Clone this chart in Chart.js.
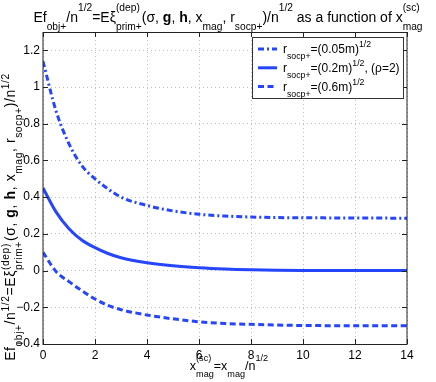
<!DOCTYPE html>
<html>
<head>
<meta charset="utf-8">
<script src="https://cdn.jsdelivr.net/npm/chart.js@4.4.1/dist/chart.umd.min.js"></script>
<style>
    html, body { margin: 0; padding: 0; background: #fff; }
    canvas { display: block; }
</style>
</head>
<body>
<canvas id="chart" width="436" height="382"></canvas>
<script>
// values
const xs = [0, 0.5, 1, 1.5, 2, 2.5, 3, 4, 5, 6, 7, 8, 9, 10, 11, 12, 13, 14];
const r005 = [1.14, 0.87, 0.69, 0.57, 0.50, 0.445, 0.40, 0.355, 0.325, 0.307, 0.297, 0.292, 0.289, 0.288, 0.287, 0.286, 0.286, 0.285];
const r02 = [0.45, 0.32, 0.228, 0.165, 0.125, 0.093, 0.07, 0.043, 0.026, 0.015, 0.008, 0.004, 0.002, 0.001, 0.0005, 0, 0, 0];
const r06 = [0.10, -0.005, -0.06, -0.11, -0.155, -0.19, -0.213, -0.242, -0.263, -0.279, -0.288, -0.293, -0.297, -0.299, -0.300, -0.300, -0.301, -0.301];

const seriesLabels = [
    'r_{socp+}=(0.05m)^{1/2}',
    'r_{socp+}=(0.2m)^{1/2}, (ρ=2)',
    'r_{socp+}=(0.6m)^{1/2}',
];
const xTicks = [0, 2, 4, 6, 8, 10, 12, 14];
const yTicks = [-0.4, -0.2, 0, 0.2, 0.4, 0.6, 0.8, 1, 1.2];
const yTickLabels = ['\u22120.4', '\u22120.2', '0', '0.2', '0.4', '0.6', '0.8', '1', '1.2'];

const titleText = 'Ef_{obj+}/n^{1/2}=Eξ^{(dep)}_{prim+}(σ, \\bf{g}, \\bf{h}, x_{mag}, r_{socp+})/n^{1/2} as a function of x^{(sc)}_{mag}';
const yLabelText = 'Ef_{obj+}/n^{1/2}=Eξ^{(dep)}_{prim+}(σ, \\bf{g}, \\bf{h}, x_{mag}, r_{socp+})/n^{1/2}';
const xLabelText = 'x^{(sc)}_{mag}=x_{mag}/n^{1/2}';

const FONT = '"Liberation Sans", Arial, Helvetica, sans-serif';
const BLUE = '#2545ff';

// tiny TeX-ish parser: _{..} ^{..} \bf{..}
function parseTex(s) {
    const out = [];
    let i = 0, buf = '';
    const flush = () => { if (buf) { out.push({ t: buf, m: 'n' }); buf = ''; } };
    const group = () => {
        if (s[i] === '{') {
            const j = s.indexOf('}', i);
            const g = s.slice(i + 1, j);
            i = j + 1;
            return g;
        }
        return s[i++];
    };
    while (i < s.length) {
        const c = s[i];
        if (c === '_' || c === '^') {
            flush(); i++;
            out.push({ t: group(), m: c === '_' ? 'sub' : 'sup' });
        } else if (s.startsWith('\\bf', i)) {
            flush(); i += 3;
            out.push({ t: group(), m: 'n', b: true });
        } else {
            buf += c; i++;
        }
    }
    flush();
    return out;
}

function fontFor(tok, fs) {
    const size = tok.m === 'n' ? fs : fs * 0.73;
    return (tok.b ? 'bold ' : '') + size + 'px ' + FONT;
}

// lay out tokens: a sup directly followed by a sub (or reverse) is stacked
function layoutTex(ctx, toks, fs) {
    const items = [];
    let x = 0;
    for (let k = 0; k < toks.length; k++) {
        const a = toks[k];
        ctx.font = fontFor(a, fs);
        const wa = ctx.measureText(a.t).width;
        const b = toks[k + 1];
        if (a.m !== 'n' && b && b.m !== 'n' && b.m !== a.m) {
            ctx.font = fontFor(b, fs);
            const wb = ctx.measureText(b.t).width;
            items.push({ tok: a, x }, { tok: b, x });
            x += Math.max(wa, wb);
            k++;
        } else {
            items.push({ tok: a, x });
            x += wa;
        }
    }
    return { items, width: x };
}

function drawTex(ctx, str, x, y, fs, opts = {}) {
    const { align = 'left', angle = 0, rise = 0.78, drop = 0.6, spacing = 0 } = opts;
    ctx.save();
    ctx.letterSpacing = spacing + 'px';
    const lay = layoutTex(ctx, parseTex(str), fs);
    ctx.translate(x, y);
    if (angle) ctx.rotate(angle);
    const x0 = align === 'center' ? -lay.width / 2 : 0;
    ctx.fillStyle = '#000';
    ctx.textBaseline = 'alphabetic';
    ctx.textAlign = 'left';
    lay.items.forEach(({ tok, x: dx }) => {
        ctx.font = fontFor(tok, fs);
        let dy = 0;
        if (tok.m === 'sup') dy = -fs * rise;
        if (tok.m === 'sub') dy = fs * drop;
        ctx.fillText(tok.t, x0 + dx, dy);
    });
    ctx.restore();
}

const frame = {
    id: 'frame',
    afterDraw(chart) {
        const { ctx, chartArea: a, scales } = chart;
        ctx.save();
        // inward tick marks
        ctx.strokeStyle = '#222';
        ctx.lineWidth = 1;
        ctx.beginPath();
        xTicks.forEach((v) => {
            const px = Math.round(scales.x.getPixelForValue(v)) + 0.5;
            ctx.moveTo(px, a.bottom); ctx.lineTo(px, a.bottom - 5);
            ctx.moveTo(px, a.top); ctx.lineTo(px, a.top + 5);
        });
        yTicks.forEach((v) => {
            const py = Math.round(scales.y.getPixelForValue(v)) + 0.5;
            ctx.moveTo(a.left, py); ctx.lineTo(a.left + 5, py);
            ctx.moveTo(a.right, py); ctx.lineTo(a.right - 5, py);
        });
        ctx.stroke();
        ctx.strokeStyle = '#222';
        ctx.strokeRect(a.left, a.top + 0.5, a.right - a.left, a.bottom - a.top);

        // legend
        const lx = 252, ly = 37, lw = 151, lh = 61;
        ctx.fillStyle = '#fff';
        ctx.fillRect(lx, ly, lw, lh);
        ctx.strokeStyle = '#333';
        ctx.strokeRect(lx + 0.5, ly + 0.5, lw, lh);
        chart.data.datasets.forEach((ds, i) => {
            const yy = 49 + i * 18.8;
            ctx.save();
            ctx.strokeStyle = ds.borderColor;
            ctx.lineWidth = ds.borderWidth;
            ctx.setLineDash(ds.borderDash || []);
            ctx.beginPath();
            ctx.moveTo(258, yy);
            ctx.lineTo(277, yy);
            ctx.stroke();
            ctx.restore();
            drawTex(ctx, seriesLabels[i], 283, yy + 4.3, 12, { rise: 0.5, drop: 0.47 });
        });

        // title and axis labels
        drawTex(ctx, titleText, 228, 22, 14, { align: 'center' });
        drawTex(ctx, xLabelText, 229, 370, 12.5, { align: 'center', rise: 0.75, drop: 0.55 });
        drawTex(ctx, yLabelText, 15, 217, 14, {
            align: 'center', angle: -Math.PI / 2, rise: 0.4, drop: 0.5, spacing: 0.6,
        });
        ctx.restore();
    },
};

const gridStyle = { color: '#bdbdbd', drawTicks: false, lineWidth: 1 };

new Chart(document.getElementById('chart'), {
    type: 'line',
    data: {
        datasets: [
            { label: seriesLabels[0], data: xs.map((x, i) => ({ x, y: r005[i] })), borderDash: [6, 3, 2, 3] },
            { label: seriesLabels[1], data: xs.map((x, i) => ({ x, y: r02[i] })), borderDash: [] },
            { label: seriesLabels[2], data: xs.map((x, i) => ({ x, y: r06[i] })), borderDash: [6, 3.5] },
        ].map((ds) => ({
            ...ds,
            borderColor: BLUE,
            borderWidth: 3,
            pointRadius: 0,
            fill: false,
            cubicInterpolationMode: 'monotone',
        })),
    },
    options: {
        responsive: false,
        devicePixelRatio: 1,
        animation: false,
        layout: { padding: { top: 32, right: 29, left: 0, bottom: 0 } },
        plugins: { legend: { display: false }, tooltip: { enabled: false } },
        scales: {
            x: {
                type: 'linear',
                min: 0,
                max: 14,
                afterBuildTicks: (s) => { s.ticks = xTicks.map((value) => ({ value })); },
                afterFit: (s) => { s.height = 38; },
                ticks: { color: '#000', font: { family: FONT, size: 12 }, padding: 4, maxRotation: 0 },
                grid: gridStyle,
                border: { display: false, dash: [1, 3] },
            },
            y: {
                type: 'linear',
                min: -0.4,
                max: 1.3,
                afterBuildTicks: (s) => { s.ticks = yTicks.map((value) => ({ value })); },
                afterFit: (s) => { s.width = 43; },
                ticks: {
                    color: '#000',
                    font: { family: FONT, size: 12 },
                    padding: 3,
                    callback: (v, i) => yTickLabels[i],
                },
                grid: gridStyle,
                border: { display: false, dash: [1, 3] },
            },
        },
    },
    plugins: [frame],
});
</script>
</body>
</html>
